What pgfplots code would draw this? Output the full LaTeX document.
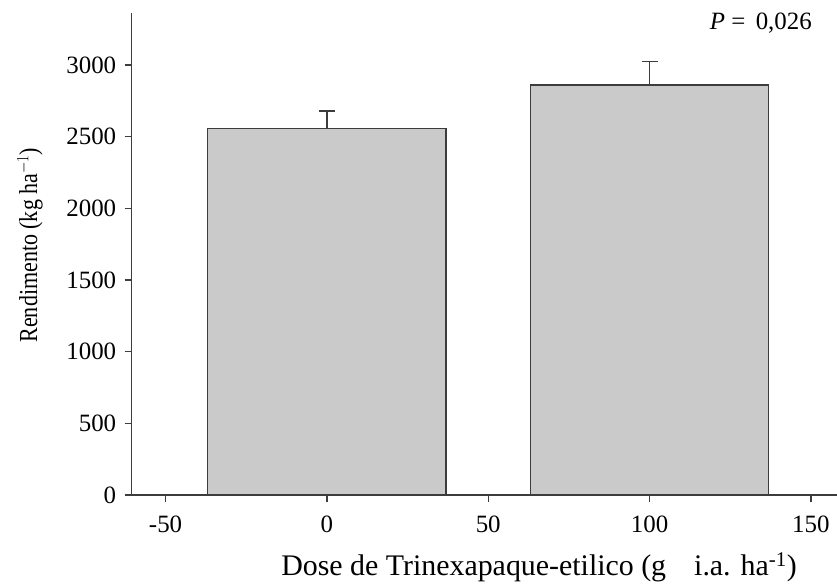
\documentclass[border=0pt]{standalone}
\usepackage{graphicx}
\usepackage{pgfplots}
\pgfplotsset{compat=1.18}
\usepackage{fontspec}
\setmainfont{Liberation Serif}
\definecolor{barfill}{HTML}{CBCACA}
\definecolor{edge}{HTML}{3C3C3C}
\begin{document}
\begin{tikzpicture}[x=1bp,y=1bp]
\useasboundingbox (0,0) rectangle (837,586);
\begin{axis}[
  at={(131.7bp,91bp)}, anchor=south west,
  scale only axis, width=705.3bp, height=482.3bp,
  xmin=-60.5, xmax=158.1, ymin=0, ymax=3365,
  axis x line*=bottom, axis y line*=left,
  axis line style={edge, line width=1.3bp, -},
  xtick={-50,0,50,100,150}, ytick={0,500,1000,1500,2000,2500,3000},
  tick align=outside, major tick length=7bp,
  tick style={edge, line width=1.3bp},
  ticklabel style={font=\fontsize{25}{28}\selectfont, text=black},
  xticklabel style={yshift=-10bp},
  yticklabel style={xshift=-5bp},
  /pgf/number format/assume math mode=true,
  /pgf/number format/1000 sep={},
  scaled ticks=false,
  xlabel={Dose de Trinexapaque-etilico (g\hspace{28bp}i.a. ha\textsuperscript{-1})},
  xlabel style={font=\fontsize{30}{34}\selectfont, at={(axis description cs:0.5775,-0.1493)}, anchor=center},
  ylabel={\scalebox{0.85}[1]{Rendimento (kg ha$^{-1}$)}},
  ylabel style={font=\fontsize{26}{30}\selectfont, at={(axis description cs:-0.1442,0.518)}, anchor=center},
  clip=false,
]
\addplot[ybar, bar width=73.8, fill=barfill, draw=edge, line width=1.3bp,
  error bars/.cd, y dir=plus, y explicit,
  error bar style={edge, line width=1.3bp},
  error mark options={rotate=90, edge, line width=1.3bp, mark size=8bp}]
  coordinates {(0,2558) +- (0,121) (100,2860) +- (0,166)};
\node[font=\fontsize{25}{28}\selectfont] at (axis cs:134.5,3293) {\textit{P} = \,0,026};
\end{axis}
\end{tikzpicture}
\end{document}
